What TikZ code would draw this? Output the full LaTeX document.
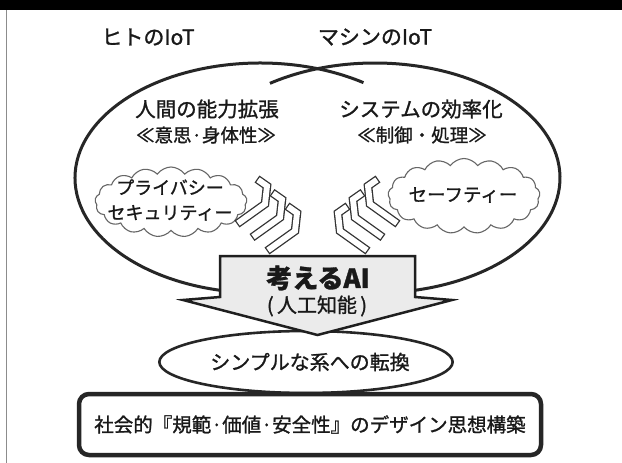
\documentclass[tikz,border=0pt]{standalone}
\usepackage{fontspec}
\setmainfont{Noto Sans CJK JP}[FakeBold=1.2]
\usetikzlibrary{shapes.symbols,shapes.geometric}
\begin{document}
\begin{tikzpicture}[x=1pt,y=-1pt,
  lbl/.style={text=black!90, inner sep=0pt},
  ring/.style={line width=3pt, draw=black!85},
  puff/.style={cloud, cloud puffs=17, cloud puff arc=110, draw=black!60, line width=1.1pt, fill=white, inner sep=0pt},
  chevout/.style={line width=8.5pt, draw=black!80, line join=miter},
  chevin/.style={line width=5.9pt, draw=white, line join=miter, shorten <=1.3pt, shorten >=1.3pt},
  chev/.pic={\draw[chevout] (0,0)--(10,7)--(8,25)--(-20,45); \draw[chevin] (0,0)--(10,7)--(8,25)--(-20,45);}
]
\useasboundingbox (0,0) rectangle (622,463);
\fill[white] (0,0) rectangle (622,463);
\fill[black] (0,0) rectangle (622,10);
\draw[black!45, line width=1pt] (6,10) -- (6,463);

% titles
\node[lbl, font=\fontsize{21}{24}\selectfont] (tl) at (148,37) {ヒトのIoT};
\node[lbl, font=\fontsize{21}{24}\selectfont] (tr) at (375,37) {マシンのIoT};

% ellipse arcs
\coordinate (Lc) at (260,178);
\coordinate (Rc) at (375,178);
\draw[ring] ([shift={(56:185pt and 115pt)}]Lc) arc[start angle=56, end angle=275, x radius=185pt, y radius=115pt];
\draw[ring] ([shift={(124.6:185pt and 115pt)}]Rc) arc[start angle=124.6, end angle=-95, x radius=185pt, y radius=115pt];

% inner texts
\node[lbl, font=\fontsize{20.5}{24}\selectfont] (h1) at (207,109) {人間の能力拡張};
\node[lbl, font=\fontsize{18.5}{22}\selectfont] (h2) at (206,135) {≪意思·身体性≫};
\node[lbl, font=\fontsize{20.5}{24}\selectfont] (m1) at (421,109) {システムの効率化};
\node[lbl, font=\fontsize{18.5}{22}\selectfont] (m2) at (422,135) {≪制御・処理≫};

% clouds
\node[puff, minimum width=152pt, minimum height=70pt] (cl) at (171,202) {};
\node[lbl, align=center, font=\fontsize{18}{25}\selectfont] (clt) at (170,200) {プライバシー\\セキュリティー};
\node[puff, minimum width=152pt, minimum height=75pt] (cr) at (464,196) {};
\node[lbl, font=\fontsize{18.5}{22}\selectfont] (crt) at (463,195) {セーフティー};

% chevrons
\foreach \i in {0,1,2} {
  \pic at ({257+15*\i},{179+13.5*\i}) {chev};
  \pic[xscale=-1] at ({378-15*\i},{179+13.5*\i}) {chev};
}

% bottom ellipse and box
\node[ellipse, draw=black!85, line width=2.6pt, fill=white, minimum width=233pt, minimum height=62pt, inner sep=0pt, font=\fontsize{20}{24}\selectfont, text=black!90] (simp) at (306,362) {\hspace*{8pt}シンプルな系への転換};
\node[draw=black!85, fill=white, rounded corners=10pt, line width=4.5pt, minimum width=462pt, minimum height=61pt, inner sep=0pt, font=\fontsize{19.5}{23}\selectfont, text=black!90] (box) at (310,424.5) {社会的『規範·価値·安全性』のデザイン思想構築};

% arrow
\draw[fill=black!8, draw=black!88, line width=2.5pt, line join=miter] (220,256) -- (415,256) -- (415,297) -- (452,300) -- (317.5,335) -- (183,300) -- (220,297) -- cycle;
\node[lbl, font=\bfseries\fontsize{26}{30}\selectfont] (ai) at (318,278) {考えるAI};
\node[lbl, font=\fontsize{20}{24}\selectfont] (ai2) at (317,306) {(\,人工知能\,)};
\end{tikzpicture}
\end{document}
